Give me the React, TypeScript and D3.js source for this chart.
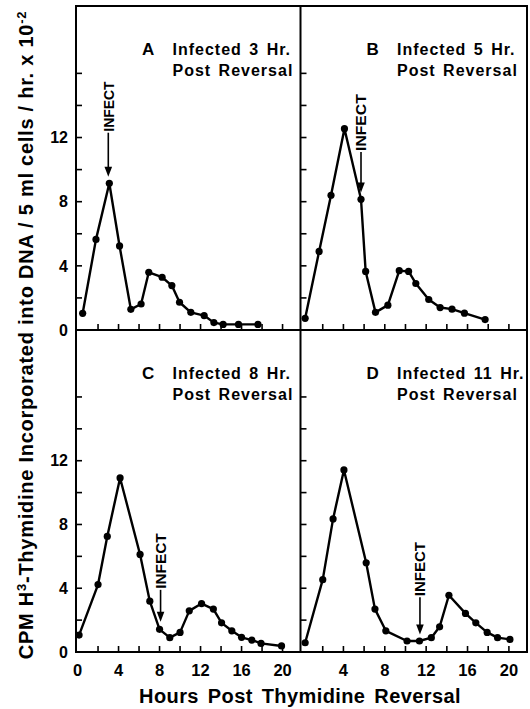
import { useEffect, useRef } from 'react';
import * as d3 from 'd3';

// Hours post thymidine reversal and CPM (x 10^-2)
const hoursA = [0.5, 1.8, 3.1, 4.1, 5.2, 6.2, 6.95, 8.25, 9.2, 9.95, 11.05, 12.35, 13.3, 14.2, 15.7, 17.6];
const cpmA = [1.04, 5.65, 9.15, 5.24, 1.29, 1.62, 3.6, 3.29, 2.77, 1.73, 1.1, 0.9, 0.46, 0.35, 0.35, 0.35];

const hoursB = [0.3, 1.65, 2.8, 4.1, 5.7, 6.15, 7.1, 8.3, 9.4, 10.3, 11.0, 12.25, 13.35, 14.5, 15.7, 17.7];
const cpmB = [0.73, 4.9, 8.4, 12.55, 8.15, 3.65, 1.1, 1.55, 3.7, 3.65, 2.9, 1.9, 1.4, 1.3, 1.05, 0.65];

const hoursC = [0.15, 2.0, 2.9, 4.15, 6.1, 7.05, 8.0, 9.0, 10.0, 10.9, 12.1, 13.25, 14.05, 15.05, 16.0, 17.0, 17.9, 19.9];
const cpmC = [1.06, 4.23, 7.25, 10.92, 6.12, 3.19, 1.42, 0.9, 1.23, 2.58, 3.04, 2.69, 1.83, 1.33, 0.92, 0.75, 0.54, 0.38];

const hoursD = [0.3, 2.0, 3.0, 4.05, 6.2, 7.05, 8.1, 10.15, 11.35, 12.5, 13.3, 14.2, 15.8, 16.8, 17.9, 18.9, 20.1];
const cpmD = [0.58, 4.54, 8.35, 11.42, 5.6, 2.69, 1.33, 0.69, 0.69, 0.9, 1.58, 3.56, 2.42, 1.83, 1.23, 0.9, 0.79];

// infect arrows: hour, arrow tip, top of shaft, top of the "INFECT" word
const infectHour = [3.0, 5.7, 8.1, 11.4];
const infectTip = [9.56, 8.58, 1.9, 1.1];
const infectShaftTop = [12.3, 11.1, 3.9, 3.44];
const infectTextTop = [15.5, 14.7, 7.44, 6.9];

const panelLetters = ['A', 'B', 'C', 'D'];
const panelInfectedAt = ['Infected 3 Hr.', 'Infected 5 Hr.', 'Infected 8 Hr.', 'Infected 11 Hr.'];

const xTickLabelsLeft = [0, 4, 8, 12, 16, 20];
const xTickLabelsRight = [4, 8, 12, 16, 20];
const xMinorTicks = [2, 4, 6, 8, 10, 12, 14, 16, 18, 20];
const yTickLabels = [0, 4, 8, 12];
const yMinorTicks = [2, 4, 6, 8, 10, 12, 14, 16];

const FONT = '"Liberation Sans", Arial, Helvetica, sans-serif';

export default function App() {
    const svgRef = useRef<SVGSVGElement>(null);

    useEffect(() => {
        if (!svgRef.current) return;
        const svg = d3.select(svgRef.current);
        svg.selectAll('*').remove();

        const left = 76, mid = 300.5, right = 527;
        const top = 6, midY = 330, bottom = 652;

        const cols = [[left, mid], [mid, right]];
        const rows = [[top, midY], [midY, bottom]];

        const series = [
            { h: hoursA, v: cpmA },
            { h: hoursB, v: cpmB },
            { h: hoursC, v: cpmC },
            { h: hoursD, v: cpmD },
        ];

        series.forEach((s, i) => {
            const col = i % 2;
            const row = Math.floor(i / 2);
            const [x0, x1] = cols[col];
            const [y0, y1] = rows[row];

            const x = d3.scaleLinear().domain([-0.15, 21.75]).range([x0, x1]);
            const y = d3.scaleLinear().domain([0, 20.2]).range([y1, y0]);

            const g = svg.append('g');

            // inward ticks
            g.selectAll('line.xt')
                .data(xMinorTicks)
                .join('line')
                .attr('x1', d => x(d)).attr('x2', d => x(d))
                .attr('y1', y1).attr('y2', y1 - 6)
                .attr('stroke', '#000').attr('stroke-width', 1.6);
            g.selectAll('line.yt')
                .data(yMinorTicks)
                .join('line')
                .attr('x1', x0).attr('x2', x0 + 6)
                .attr('y1', d => y(d)).attr('y2', d => y(d))
                .attr('stroke', '#000').attr('stroke-width', 1.6);

            // y tick labels on the left column only
            if (col === 0) {
                g.selectAll('text.yl')
                    .data(yTickLabels)
                    .join('text')
                    .attr('x', 68)
                    .attr('y', d => y(d))
                    .attr('dy', '0.36em')
                    .attr('text-anchor', 'end')
                    .attr('font-family', FONT)
                    .attr('font-weight', 'bold')
                    .attr('font-size', 16)
                    .text(d => d);
            }

            // x tick labels on the bottom row
            if (row === 1) {
                g.selectAll('text.xl')
                    .data(col === 0 ? xTickLabelsLeft : xTickLabelsRight)
                    .join('text')
                    .attr('x', d => x(d))
                    .attr('y', 676)
                    .attr('text-anchor', 'middle')
                    .attr('font-family', FONT)
                    .attr('font-weight', 'bold')
                    .attr('font-size', 16.5)
                    .text(d => d);
            }

            const pts = s.h.map((h, k) => [h, s.v[k]] as [number, number]);
            const line = d3.line<[number, number]>()
                .x(d => x(d[0]))
                .y(d => y(d[1]));

            g.append('path')
                .attr('d', line(pts))
                .attr('fill', 'none')
                .attr('stroke', '#000')
                .attr('stroke-width', 2.4)
                .attr('stroke-linejoin', 'round');

            g.selectAll('circle')
                .data(pts)
                .join('circle')
                .attr('cx', d => x(d[0]))
                .attr('cy', d => y(d[1]))
                .attr('r', 3.6)
                .attr('fill', '#000');

            // panel caption
            const cap = g.append('g')
                .attr('font-family', FONT)
                .attr('font-weight', 'bold');
            cap.append('text')
                .attr('x', x0 + 66)
                .attr('y', y0 + 48.5)
                .attr('font-size', 17)
                .text(panelLetters[i]);
            cap.append('text')
                .attr('x', x0 + 96.5)
                .attr('y', y0 + 48.5)
                .attr('font-size', 16)
                .attr('letter-spacing', 1)
                .attr('word-spacing', 2)
                .text(panelInfectedAt[i]);
            cap.append('text')
                .attr('x', x0 + 96.5)
                .attr('y', y0 + 70)
                .attr('font-size', 16)
                .attr('letter-spacing', 1)
                .attr('word-spacing', 2)
                .text('Post Reversal');

            // infect arrow
            const ax = x(infectHour[i]);
            const tipY = y(infectTip[i]);
            const shaftY = y(infectShaftTop[i]);
            const textY = y(infectTextTop[i]);
            g.append('line')
                .attr('x1', ax).attr('x2', ax)
                .attr('y1', shaftY).attr('y2', tipY - 8)
                .attr('stroke', '#000').attr('stroke-width', 1.6);
            g.append('path')
                .attr('d', `M${ax},${tipY} L${ax - 3.8},${tipY - 10} L${ax + 3.8},${tipY - 10} Z`)
                .attr('fill', '#000');
            g.append('text')
                .attr('transform', `translate(${ax},${shaftY - 1}) rotate(-90)`)
                .attr('dy', '0.36em')
                .attr('font-family', FONT)
                .attr('font-weight', 'bold')
                .attr('font-size', 14.5)
                .attr('textLength', shaftY - 1 - textY)
                .attr('lengthAdjust', 'spacingAndGlyphs')
                .text('INFECT');
        });

        // frame
        svg.append('rect')
            .attr('x', left).attr('y', top)
            .attr('width', right - left).attr('height', bottom - top)
            .attr('fill', 'none').attr('stroke', '#000').attr('stroke-width', 2);
        svg.append('line')
            .attr('x1', mid).attr('x2', mid).attr('y1', top).attr('y2', bottom)
            .attr('stroke', '#000').attr('stroke-width', 2);
        svg.append('line')
            .attr('x1', left).attr('x2', right).attr('y1', midY).attr('y2', midY)
            .attr('stroke', '#000').attr('stroke-width', 2);

        // axis titles
        svg.append('text')
            .attr('x', 300)
            .attr('y', 703)
            .attr('text-anchor', 'middle')
            .attr('font-family', FONT)
            .attr('font-weight', 'bold')
            .attr('font-size', 20)
            .attr('letter-spacing', 0.4)
            .attr('word-spacing', 3)
            .text('Hours Post Thymidine Reversal');

        const yt = svg.append('text')
            .attr('transform', 'translate(33,335) rotate(-90)')
            .attr('text-anchor', 'middle')
            .attr('font-family', FONT)
            .attr('font-weight', 'bold')
            .attr('font-size', 20)
            .attr('letter-spacing', 0.75);
        yt.append('tspan').text('CPM H');
        yt.append('tspan').attr('dy', -7).attr('font-size', 13).text('3');
        yt.append('tspan').attr('dy', 7).text('-Thymidine Incorporated into DNA / 5 ml cells / hr. x 10');
        yt.append('tspan').attr('dy', -7).attr('font-size', 13).text('-2');
    }, []);

    return (
        <svg
            ref={svgRef}
            width={530}
            height={709}
            style={{ position: 'absolute', left: 0, top: 0, background: '#fff' }}
        />
    );
}
